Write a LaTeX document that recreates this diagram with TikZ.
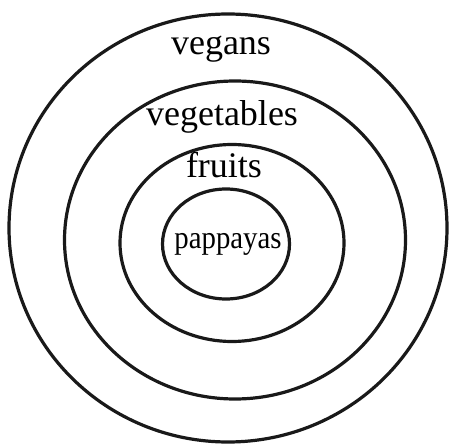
\documentclass[tikz,border=0pt]{standalone}
\usepackage{fontspec}
\setmainfont{Liberation Serif}
\usetikzlibrary{shapes.geometric}
\begin{document}
\begin{tikzpicture}[x=1pt,y=-1pt,
  ring/.style={draw=black!90, line width=3.2pt, ellipse, inner sep=0pt},
  lbl/.style={anchor=base, inner sep=0pt, font=\fontsize{36}{40}\selectfont},
  small/.style={anchor=base, inner sep=0pt, font=\fontsize{32}{36}\selectfont, xscale=0.9}]
\useasboundingbox (0,0) rectangle (452,446);
\node[ring, minimum width=438pt, minimum height=428pt] (outer) at (228,228) {};
\node[ring, minimum width=341pt, minimum height=318pt] (veg) at (235,240) {};
\node[ring, minimum width=224pt, minimum height=197pt] (fru) at (232,243) {};
\node[ring, minimum width=127pt, minimum height=110pt] (pap) at (226,244) {};
\node[lbl] (t1) at (221,55) {vegans};
\node[lbl] (t2) at (222,126) {vegetables};
\node[lbl] (t3) at (224,178) {fruits};
\node[small] (t4) at (228,249) {pappayas};
\end{tikzpicture}
\end{document}
